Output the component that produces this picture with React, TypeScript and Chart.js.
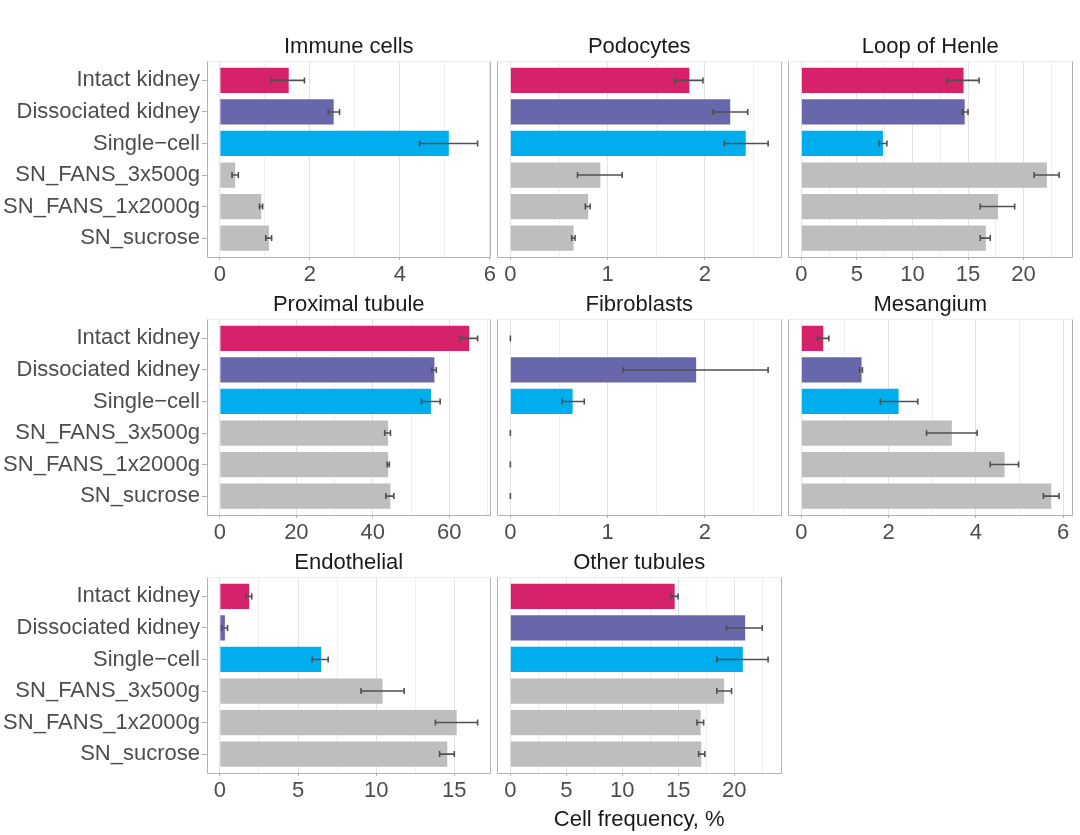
import React, { useEffect, useRef } from 'react';
import { Chart, registerables } from 'chart.js';
Chart.register(...registerables);

// ---------- data ----------
const categories = ['Intact kidney', 'Dissociated kidney', 'Single\u2212cell', 'SN_FANS_3x500g', 'SN_FANS_1x2000g', 'SN_sucrose'];
const barColors = ['#D6226A', '#6967AB', '#00AEEF', '#BEBEBE', '#BEBEBE', '#BEBEBE'];

const panelTitles = ['Immune cells', 'Podocytes', 'Loop of Henle', 'Proximal tubule', 'Fibroblasts', 'Mesangium', 'Endothelial', 'Other tubules'];
const majorSteps = [2, 1, 5, 20, 1, 2, 5, 5];
const xAxisTitle = 'Cell frequency, %';

const immuneMean = [1.53, 2.53, 5.09, 0.34, 0.92, 1.09];
const immuneLow = [1.14, 2.41, 4.44, 0.27, 0.88, 1.02];
const immuneHigh = [1.88, 2.66, 5.73, 0.41, 0.95, 1.15];

const podoMean = [1.84, 2.26, 2.42, 0.925, 0.80, 0.65];
const podoLow = [1.69, 2.08, 2.20, 0.69, 0.77, 0.63];
const podoHigh = [1.98, 2.44, 2.65, 1.15, 0.82, 0.665];

const henleMean = [14.6, 14.7, 7.34, 22.1, 17.7, 16.6];
const henleLow = [13.1, 14.5, 7.0, 20.95, 16.1, 16.1];
const henleHigh = [16.0, 15.0, 7.7, 23.2, 19.2, 17.0];

const proxMean = [65.2, 56.1, 55.2, 44.0, 44.0, 44.6];
const proxLow = [62.9, 55.4, 52.7, 43.1, 43.75, 43.4];
const proxHigh = [67.4, 56.6, 57.6, 44.6, 44.3, 45.5];

const fibroMean = [0, 1.91, 0.64, 0, 0, 0];
const fibroLow = [0, 1.16, 0.53, 0, 0, 0];
const fibroHigh = [0, 2.65, 0.76, 0, 0, 0];

const mesMean = [0.50, 1.38, 2.23, 3.45, 4.66, 5.73];
const mesLow = [0.37, 1.33, 1.81, 2.87, 4.33, 5.55];
const mesHigh = [0.63, 1.40, 2.67, 4.03, 4.98, 5.91];

const endoMean = [1.87, 0.32, 6.48, 10.41, 15.15, 14.55];
const endoLow = [1.66, 0.11, 5.9, 9.03, 13.79, 14.06];
const endoHigh = [2.04, 0.49, 6.93, 11.79, 16.49, 15.0];

const otherMean = [14.68, 20.98, 20.77, 19.1, 17.0, 17.06];
const otherLow = [14.35, 19.3, 18.45, 18.45, 16.67, 16.82];
const otherHigh = [14.98, 22.5, 23.03, 19.76, 17.27, 17.38];

const panelMeans = [immuneMean, podoMean, henleMean, proxMean, fibroMean, mesMean, endoMean, otherMean];
const panelLows = [immuneLow, podoLow, henleLow, proxLow, fibroLow, mesLow, endoLow, otherLow];
const panelHighs = [immuneHigh, podoHigh, henleHigh, proxHigh, fibroHigh, mesHigh, endoHigh, otherHigh];

// ---------- layout / style ----------
const W = 1080;
const H = 835;
const colLefts = [207, 497.5, 788.5];
const rowTops = [61.5, 319.5, 577.5];
const panelW = 283.5;
const panelH = 195.5;
const FONT = "'Liberation Sans', Arial, Helvetica, sans-serif";
const FS = 22;
const LABEL_COLOR = '#4d4d4d';
const TITLE_COLOR = '#1a1a1a';
const BORDER_COLOR = '#b3b3b3';

function align(p: number) {
  return Math.round(p - 0.5) + 0.5;
}

function Panel({ idx }: { idx: number }) {
  const ref = useRef<HTMLCanvasElement>(null);
  useEffect(() => {
    if (!ref.current) return;
    const col = idx % 3;
    const row = Math.floor(idx / 3);
    const mean = panelMeans[idx];
    const low = panelLows[idx];
    const high = panelHighs[idx];
    const step = majorSteps[idx];
    const half = step / 2;
    const maxV = Math.max(...high, ...mean);
    const xmin = -0.05 * maxV;
    const xmax = 1.05 * maxV;
    const showY = col === 0;
    const hasAxisTitle = idx === 7;
    const yW = showY ? colLefts[0] : 0;
    const xH = hasAxisTitle ? 60 : 31;
    const titlePadBottom = 1.5;
    const titleH = FS * 1.2 + titlePadBottom;
    const left = colLefts[col];
    const top = rowTops[row];
    const isMajor = (v: number) => Math.abs(v / step - Math.round(v / step)) < 1e-6;

    const frame = {
      id: 'frame',
      beforeDatasetsDraw(chart: any) {
        const { ctx, chartArea: ca } = chart;
        ctx.save();
        ctx.lineWidth = 1;
        const l = align(ca.left), r = align(ca.right), b = align(ca.bottom), t = align(ca.top);
        ctx.strokeStyle = '#ededed';
        ctx.beginPath();
        ctx.moveTo(l, t); ctx.lineTo(r, t);
        ctx.stroke();
        ctx.strokeStyle = BORDER_COLOR;
        ctx.beginPath();
        ctx.moveTo(l, t); ctx.lineTo(l, b); ctx.lineTo(r, b); ctx.lineTo(r, t);
        ctx.stroke();
        ctx.restore();
      },
    };

    const errorBars = {
      id: 'errorBars',
      afterDatasetsDraw(chart: any) {
        const { ctx } = chart;
        const xs = chart.scales.x;
        const ys = chart.scales.y;
        ctx.save();
        ctx.strokeStyle = '#505050';
        ctx.lineWidth = 1.6;
        for (let i = 0; i < mean.length; i++) {
          const y = ys.getPixelForValue(i + 1);
          const x0 = xs.getPixelForValue(low[i]);
          const x1 = xs.getPixelForValue(high[i]);
          ctx.beginPath();
          ctx.moveTo(x0, y); ctx.lineTo(x1, y);
          ctx.moveTo(x0, y - 3); ctx.lineTo(x0, y + 3);
          ctx.moveTo(x1, y - 3); ctx.lineTo(x1, y + 3);
          ctx.stroke();
        }
        ctx.restore();
      },
    };

    const chart = new Chart(ref.current, {
      type: 'bar',
      data: {
        datasets: [
          {
            data: mean.map((v, i) => ({ x: v, y: i + 1 })),
            backgroundColor: barColors,
            borderWidth: 0,
            barPercentage: 0.8,
            categoryPercentage: 1,
          },
        ],
      },
      options: {
        indexAxis: 'y',
        responsive: false,
        animation: false,
        events: [],
        layout: {
          padding: {
            left: left - yW,
            right: W - left - panelW,
            top: top - titleH,
            bottom: H - top - panelH - xH,
          },
        },
        plugins: {
          legend: { display: false },
          tooltip: { enabled: false },
          title: {
            display: true,
            text: panelTitles[idx],
            fullSize: false,
            color: TITLE_COLOR,
            font: { family: FONT, size: FS, weight: 'normal', lineHeight: 1.2 },
            padding: { top: 0, bottom: titlePadBottom },
          },
        },
        scales: {
          x: {
            type: 'linear',
            position: 'bottom',
            offset: false,
            min: xmin,
            max: xmax,
            afterBuildTicks(scale: any) {
              const ticks = [];
              for (let k = Math.ceil(xmin / half - 1e-9); k * half <= xmax + 1e-9; k++) {
                ticks.push({ value: k * half });
              }
              scale.ticks = ticks;
            },
            afterFit(scale: any) {
              scale.height = xH;
              scale.paddingLeft = 0;
              scale.paddingRight = 0;
              scale.paddingTop = 0;
              scale.paddingBottom = 0;
            },
            ticks: {
              autoSkip: false,
              maxRotation: 0,
              minRotation: 0,
              padding: 2,
              color: LABEL_COLOR,
              font: { family: FONT, size: FS, lineHeight: 1.2 },
              callback: (v: any) => (isMajor(Number(v)) ? String(Math.round(Number(v) * 1000) / 1000) : ''),
            },
            grid: {
              offset: false,
              drawTicks: true,
              tickLength: 3,
              color: (c: any) => (c.tick && isMajor(c.tick.value) ? '#e3e3e3' : '#efefef'),
              tickColor: (c: any) => (c.tick && isMajor(c.tick.value) ? BORDER_COLOR : 'rgba(0,0,0,0)'),
              lineWidth: 1,
            },
            border: { display: false },
            title: hasAxisTitle
              ? {
                  display: true,
                  text: xAxisTitle,
                  color: TITLE_COLOR,
                  font: { family: FONT, size: FS, lineHeight: 1.2 },
                  padding: { top: 0, bottom: 0 },
                }
              : { display: false },
          },
          y: {
            type: 'linear',
            position: 'left',
            offset: false,
            reverse: true,
            min: 0.4,
            max: 6.6,
            afterBuildTicks(scale: any) {
              scale.ticks = categories.map((_, i) => ({ value: i + 1 }));
            },
            afterFit(scale: any) {
              scale.width = yW;
              scale.paddingLeft = 0;
              scale.paddingRight = 0;
              scale.paddingTop = 0;
              scale.paddingBottom = 0;
            },
            ticks: {
              display: showY,
              autoSkip: false,
              padding: 2,
              color: LABEL_COLOR,
              font: { family: FONT, size: FS, lineHeight: 1.2 },
              callback: (v: any) => categories[Math.round(Number(v)) - 1] ?? '',
            },
            grid: {
              offset: false,
              drawOnChartArea: false,
              drawTicks: showY,
              tickLength: 5,
              tickColor: BORDER_COLOR,
            },
            border: { display: false },
          },
        },
      },
      plugins: [frame, errorBars],
    } as any);
    return () => chart.destroy();
  }, [idx]);
  return (
    <canvas
      ref={ref}
      width={W}
      height={H}
      style={{ position: 'absolute', left: 0, top: 0, width: W, height: H }}
    />
  );
}

export default function App() {
  return (
    <div style={{ position: 'fixed', left: 0, top: 0, width: W, height: H, background: '#ffffff', overflow: 'hidden' }}>
      {panelTitles.map((_, i) => (
        <Panel key={i} idx={i} />
      ))}
    </div>
  );
}
